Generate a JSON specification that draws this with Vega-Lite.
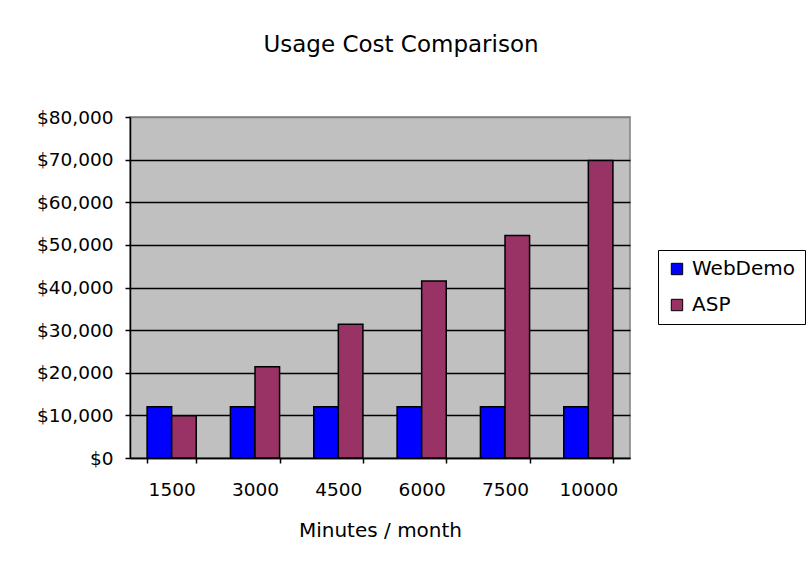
{
  "$schema": "https://vega.github.io/schema/vega-lite/v6.json",
  "width": 500,
  "height": 341,
  "autosize": "none",
  "padding": {"left": 130, "top": 117, "right": 179, "bottom": 113},
  "background": "white",
  "title": {
    "text": "Usage Cost Comparison",
    "fontSize": 23,
    "font": "DejaVu Sans",
    "fontWeight": "normal",
    "color": "black",
    "anchor": "middle",
    "offset": 51,
    "dx": 21
  },
  "data": {
    "values": [
      {"minutes": "1500", "series": "WebDemo", "cost": 12000},
      {"minutes": "1500", "series": "ASP", "cost": 9900},
      {"minutes": "3000", "series": "WebDemo", "cost": 12000},
      {"minutes": "3000", "series": "ASP", "cost": 21400},
      {"minutes": "4500", "series": "WebDemo", "cost": 12000},
      {"minutes": "4500", "series": "ASP", "cost": 31400},
      {"minutes": "6000", "series": "WebDemo", "cost": 12000},
      {"minutes": "6000", "series": "ASP", "cost": 41500},
      {"minutes": "7500", "series": "WebDemo", "cost": 12000},
      {"minutes": "7500", "series": "ASP", "cost": 52200},
      {"minutes": "10000", "series": "WebDemo", "cost": 12000},
      {"minutes": "10000", "series": "ASP", "cost": 69800}
    ]
  },
  "mark": {"type": "bar", "stroke": "black", "strokeWidth": 1.5},
  "encoding": {
    "x": {
      "field": "minutes",
      "type": "ordinal",
      "sort": null,
      "scale": {"paddingInner": 0.41, "paddingOuter": 0.205},
      "axis": {
        "title": "Minutes / month",
        "titleFontSize": 20,
        "titleFontWeight": "normal",
        "titleColor": "black",
        "titlePadding": 22,
        "labelAngle": 0,
        "labelFontSize": 18.5,
        "labelColor": "black",
        "labelPadding": 17,
        "tickBand": "extent",
        "tickColor": "black",
        "tickSize": 5,
        "tickWidth": 1.5,
        "domainColor": "black",
        "domainWidth": 1.5,
        "grid": false
      }
    },
    "xOffset": {
      "field": "series",
      "type": "nominal",
      "sort": ["WebDemo", "ASP"],
      "scale": {"paddingInner": 0, "paddingOuter": 0}
    },
    "y": {
      "field": "cost",
      "type": "quantitative",
      "scale": {"domain": [0, 80000], "nice": false},
      "axis": {
        "title": null,
        "values": [0, 10000, 20000, 30000, 40000, 50000, 60000, 70000, 80000],
        "format": "$,.0f",
        "labelFontSize": 18.5,
        "labelColor": "black",
        "labelPadding": 12,
        "tickSize": 5,
        "tickColor": "black",
        "tickWidth": 1.5,
        "domainColor": "black",
        "domainWidth": 1.5,
        "grid": true,
        "gridColor": {"condition": {"test": "datum.value === 80000", "value": "#808080"}, "value": "black"},
        "gridWidth": 1.5,
        "gridOpacity": 1
      }
    },
    "color": {
      "field": "series",
      "type": "nominal",
      "sort": ["WebDemo", "ASP"],
      "scale": {"domain": ["WebDemo", "ASP"], "range": ["#0000FF", "#993366"]},
      "legend": {
        "title": null,
        "orient": "none",
        "legendX": 528,
        "legendY": 133,
        "direction": "vertical",
        "fillColor": "white",
        "strokeColor": "black",
        "padding": 9,
        "symbolType": "square",
        "symbolSize": 130,
        "symbolStrokeColor": "black",
        "symbolStrokeWidth": 1,
        "symbolOpacity": 1,
        "labelFontSize": 20,
        "labelColor": "black",
        "labelOffset": 5,
        "rowPadding": 16
      }
    }
  },
  "config": {
    "font": "DejaVu Sans",
    "view": {"fill": "#C0C0C0", "stroke": "#808080", "strokeWidth": 1.5}
  }
}
